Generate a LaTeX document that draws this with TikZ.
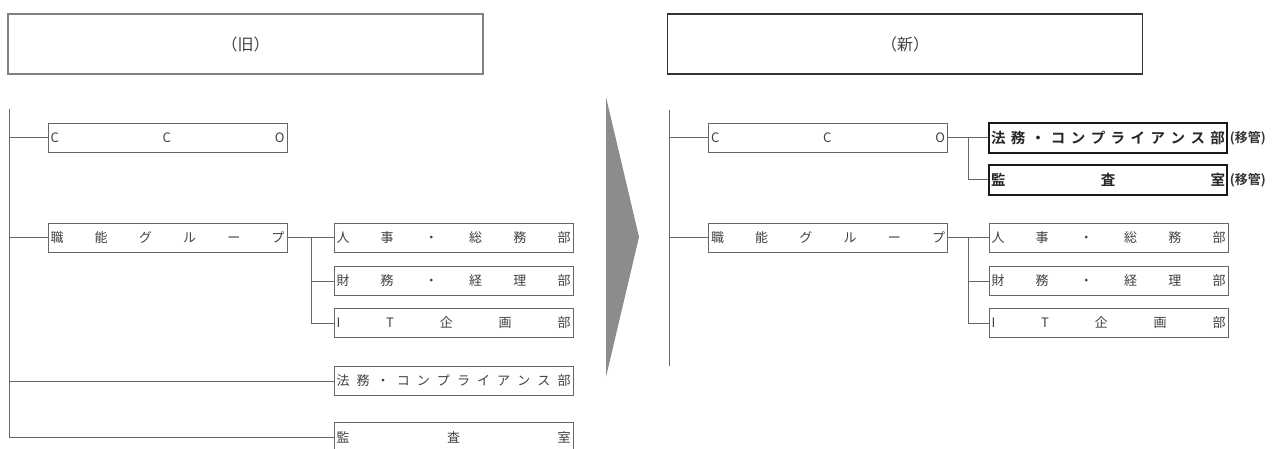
\documentclass[tikz,border=0pt]{standalone}
\usepackage{fontspec}
\newfontfamily\jp{Noto Sans CJK JP}
\newfontfamily\jpb{Noto Sans CJK JP Bold}
\newcommand\spreadtext[1]{\hbox to 234pt{#1}}
\begin{document}
\begin{tikzpicture}[x=1pt,y=-1pt,
  line/.style={draw=black!60, line width=1pt},
  titlebox/.style={draw=black!50, line width=1.2pt, minimum width=475pt, minimum height=60pt, inner sep=0pt, font=\jp\fontsize{16}{18}\selectfont, text=black!75},
  orgbox/.style={draw=black!60, line width=1pt, minimum width=239pt, minimum height=29pt, inner sep=0pt, font=\jp\fontsize{13}{15}\selectfont, text=black!75},
  movedbox/.style={draw=black!90, line width=2.4pt, minimum width=238pt, minimum height=30pt, inner sep=0pt, font=\jpb\fontsize{14.5}{16}\selectfont, text=black!85},
  tag/.style={font=\jpb\fontsize{13}{15}\selectfont, inner sep=0pt, anchor=west, text=black!80}]
\useasboundingbox (0,0) rectangle (1272,449);
% ---------- old ----------
\node[titlebox] (oldtitle) at (245.5,44) {（旧）};
\node[orgbox] (occo) at (167.5,138) {\spreadtext{C\hfill C\hfill O}};
\node[orgbox] (ofunc) at (167.5,238) {\spreadtext{職\hfill 能\hfill グ\hfill ル\hfill ー\hfill プ}};
\node[orgbox] (ohr) at (453.5,238) {\spreadtext{人\hfill 事\hfill ・\hfill 総\hfill 務\hfill 部}};
\node[orgbox] (ofin) at (453.5,281) {\spreadtext{財\hfill 務\hfill ・\hfill 経\hfill 理\hfill 部}};
\node[orgbox] (oit) at (453.5,323) {\spreadtext{I\hfill T\hfill 企\hfill 画\hfill 部}};
\node[orgbox] (olaw) at (453.5,381) {\spreadtext{法\hfill 務\hfill ・\hfill コ\hfill ン\hfill プ\hfill ラ\hfill イ\hfill ア\hfill ン\hfill ス\hfill 部}};
\node[orgbox] (oaud) at (453.5,437) {\spreadtext{監\hfill 査\hfill 室}};
\coordinate (otop) at (9,109);
\coordinate (obot) at (9,437);
\coordinate (obr) at (311,238);
\draw[line] (otop) -- (obot) -- (oaud.west);
\draw[line] (occo.west -| otop) -- (occo.west);
\draw[line] (ofunc.west -| otop) -- (ofunc.west);
\draw[line] (olaw.west -| otop) -- (olaw.west);
\draw[line] (ofunc.east) -- (ohr.west);
\draw[line] (obr) |- (oit.west);
\draw[line] (ofin.west -| obr) -- (ofin.west);
% ---------- arrow ----------
\fill[black!45] (606,97) -- (639,237) -- (606,377) -- cycle;
% ---------- new ----------
\node[titlebox, draw=black!80, line width=1.8pt] (newtitle) at (905,44) {（新）};
\node[orgbox] (ncco) at (828,138) {\spreadtext{C\hfill C\hfill O}};
\node[orgbox] (nfunc) at (828,238) {\spreadtext{職\hfill 能\hfill グ\hfill ル\hfill ー\hfill プ}};
\node[movedbox] (nlaw) at (1108,138) {\spreadtext{法\hfill 務\hfill ・\hfill コ\hfill ン\hfill プ\hfill ラ\hfill イ\hfill ア\hfill ン\hfill ス\hfill 部}};
\node[movedbox] (naud) at (1108,180) {\spreadtext{監\hfill 査\hfill 室}};
\node[tag] (tlaw) at ([xshift=1.5pt]nlaw.east) {(移管)};
\node[tag] (taud) at ([xshift=1.5pt]naud.east) {(移管)};
\node[orgbox] (nhr) at (1108.5,238) {\spreadtext{人\hfill 事\hfill ・\hfill 総\hfill 務\hfill 部}};
\node[orgbox] (nfin) at (1108.5,281) {\spreadtext{財\hfill 務\hfill ・\hfill 経\hfill 理\hfill 部}};
\node[orgbox] (nit) at (1108.5,323) {\spreadtext{I\hfill T\hfill 企\hfill 画\hfill 部}};
\coordinate (ntop) at (669,110);
\coordinate (nbot) at (669,366);
\coordinate (nbr1) at (968,138);
\coordinate (nbr2) at (968,238);
\draw[line] (ntop) -- (nbot);
\draw[line] (ncco.west -| ntop) -- (ncco.west);
\draw[line] (nfunc.west -| ntop) -- (nfunc.west);
\draw[line] (ncco.east) -- (nlaw.west);
\draw[line] (nbr1) |- (naud.west);
\draw[line] (nfunc.east) -- (nhr.west);
\draw[line] (nbr2) |- (nit.west);
\draw[line] (nfin.west -| nbr2) -- (nfin.west);
\end{tikzpicture}
\end{document}
